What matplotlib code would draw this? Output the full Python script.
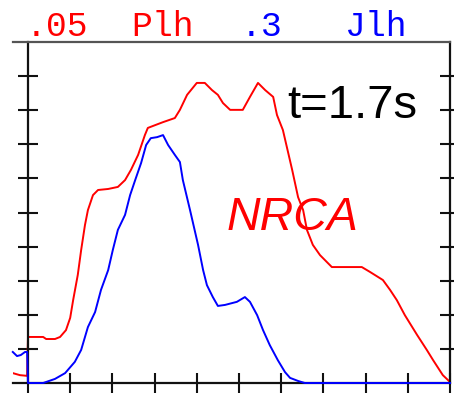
import matplotlib
matplotlib.use("Agg")
import matplotlib.pyplot as plt

# ---- data ----
red_x = [-0.36, -0.19, -0.02, 0.0, 0.36, 0.43, 0.64, 0.76, 0.90, 1.00, 1.07, 1.18, 1.26, 1.35,
         1.42, 1.54, 1.66, 1.90, 2.13, 2.30, 2.44, 2.61, 2.77, 2.84, 3.03, 3.20, 3.48, 3.60,
         3.77, 4.00, 4.19, 4.36, 4.50, 4.62, 4.79, 5.09, 5.26, 5.45, 5.62, 5.81, 5.90, 6.04,
         6.26, 6.40, 6.52, 6.61, 6.75, 6.92, 7.20, 7.91, 8.10, 8.41, 8.58, 8.74, 8.93, 9.22,
         9.45, 9.60, 9.83, 10.0]
red_y = [0.29, 0.23, 0.21, 1.35, 1.35, 1.29, 1.29, 1.35, 1.55, 1.91, 2.43, 3.17, 3.90, 4.63,
         5.07, 5.51, 5.66, 5.69, 5.75, 5.95, 6.25, 6.69, 7.27, 7.48, 7.57, 7.65, 7.77, 8.01,
         8.45, 8.80, 8.80, 8.59, 8.45, 8.21, 8.01, 8.01, 8.39, 8.80, 8.59, 8.39, 7.86, 7.42,
         6.25, 5.45, 5.07, 4.49, 4.05, 3.75, 3.40, 3.40, 3.26, 3.02, 2.73, 2.43, 1.99, 1.41,
         0.97, 0.67, 0.23, 0.03]

blue_x = [-0.36, -0.26, -0.17, -0.07, -0.02, 0.0, 0.36, 0.64, 0.88, 1.11, 1.26, 1.42, 1.59,
          1.73, 1.90, 2.01, 2.13, 2.30, 2.42, 2.54, 2.68, 2.80, 2.91, 3.06, 3.20, 3.32, 3.48,
          3.60, 3.67, 3.84, 4.03, 4.15, 4.24, 4.38, 4.50, 4.67, 4.95, 5.14, 5.26, 5.43, 5.57,
          5.73, 5.92, 6.09, 6.21, 6.40, 6.56, 10.0]
blue_y = [0.91, 0.79, 0.82, 0.91, 0.91, 0.0, 0.0, 0.12, 0.29, 0.62, 0.97, 1.64, 2.08, 2.73,
          3.31, 3.90, 4.49, 4.93, 5.51, 5.95, 6.45, 6.98, 7.18, 7.21, 7.27, 6.98, 6.69, 6.48,
          5.95, 5.07, 4.05, 3.31, 2.87, 2.52, 2.26, 2.29, 2.38, 2.52, 2.38, 1.99, 1.55, 1.11,
          0.67, 0.32, 0.15, 0.06, 0.0, 0.0]

x_ticks = list(range(0, 11))
y_ticks = list(range(1, 10))
top_labels = [".05", "Plh", ".3", "Jlh"]

W, H = 454, 394
fig = plt.figure(figsize=(W / 100, H / 100), dpi=100)
ax = fig.add_axes([13 / W, 1 - 383 / H, (450 - 13) / W, (383 - 42) / H])
ax.set_xlim(-0.355, 10)
ax.set_ylim(0, 10)

ax.plot(red_x, red_y, color="#ff0000", lw=1.4, zorder=2)
ax.plot(blue_x, blue_y, color="#0000ff", lw=1.4, zorder=3, clip_on=False)

for s in ax.spines.values():
    s.set_linewidth(1.6)
    s.set_color("#111111")
ax.spines["top"].set_color("#555555")
ax.spines["left"].set_position(("data", 0))

ax.set_xticks(x_ticks)
ax.set_yticks(y_ticks)
ax.tick_params(axis="both", direction="inout", length=14, width=1.5, color="#111111",
               labelbottom=False, labelleft=False)
ax.tick_params(axis="y", right=True, left=True)

def ftext(px, py, s, **kw):
    fig.text(px / W, 1 - py / H, s, va="baseline", ha="left", **kw)

mono = dict(family="Liberation Mono", fontsize=25)
ftext(26, 36, top_labels[0], color="#ff0000", **mono)
ftext(131, 36, top_labels[1], color="#ff0000", **mono)
ftext(241, 36, top_labels[2], color="#0000ff", **mono)
ftext(345, 36, top_labels[3], color="#0000ff", **mono)

ftext(287, 118, "t=1.7s", color="black", family="Liberation Sans", fontsize=34)
ftext(227, 230, "NRCA", color="#ff0000", family="Liberation Sans", fontsize=33.5, style="italic")

fig.savefig("out.png", dpi=100)
